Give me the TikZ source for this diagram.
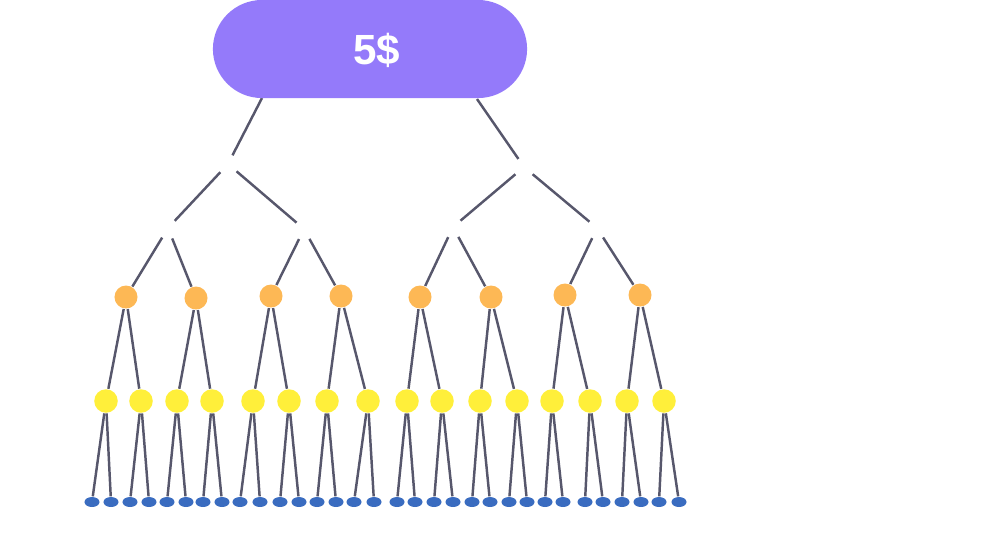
\documentclass[tikz,border=0pt]{standalone}
\usepackage{fontspec}
\setmainfont{Liberation Sans}
\usetikzlibrary{shapes.geometric}
\definecolor{pillc}{RGB}{148,122,250}
\definecolor{orangec}{RGB}{253,184,85}
\definecolor{yellowc}{RGB}{255,239,58}
\definecolor{bluec}{RGB}{58,108,192}
\definecolor{linec}{RGB}{58,58,82}
\tikzset{
  pillbox/.style={fill=pillc, draw=none, rounded corners=0.49cm, minimum width=3.14cm, minimum height=0.98cm, inner sep=0pt},
  pricetext/.style={text=white, font=\fontsize{12}{14}\selectfont\bfseries, inner sep=0pt},
  onode/.style={circle, fill=orangec, minimum size=0.23cm, inner sep=0pt},
  ynode/.style={circle, fill=yellowc, minimum size=0.235cm, inner sep=0pt},
  bnode/.style={ellipse, fill=bluec, minimum width=0.15cm, minimum height=0.10cm, inner sep=0pt},
  tl/.style={draw=linec, line width=0.7pt, opacity=0.85},
  gapstart/.style={shorten <=3.2pt},
  gapend/.style={shorten >=2.8pt}
}
\begin{document}
\begin{tikzpicture}[x=0.01cm, y=-0.01cm]
\useasboundingbox (0,0) rectangle (1000,556);
% branch points
\coordinate (rl) at (262,98);
\coordinate (rr) at (477,99);
\coordinate (L) at (228,164);
\coordinate (R) at (524,167);
\coordinate (LL) at (168,228);
\coordinate (LR) at (304,229);
\coordinate (RL) at (453,227);
\coordinate (RR) at (597,228);
% nodes
\foreach \x/\y [count=\i] in {126/297,196/298,271/296,341/296,420/297,491/297,565/295,640/295}
  \node[onode] (o\i) at (\x,\y) {};
\foreach \x [count=\i] in {106,141,177,212,253,289,327,368,407,442,480,517,552,590,627,664}
  \node[ynode] (y\i) at (\x,401) {};
\foreach \x [count=\i] in {92,111,130,149,167,186,203,222,240,260,280,299,317,336,354,374,397,415,434,453,472,490,509,527,545,563,585,603,622,641,659,679}
  \node[bnode] (b\i) at (\x,502) {};
% upper tree with gaps
\draw[tl, gapend] (rl) -- (L);
\draw[tl, gapend] (rr) -- (R);
\draw[tl, gapstart, gapend] (L) -- (LL);
\draw[tl, gapstart, gapend] (L) -- (LR);
\draw[tl, gapstart, gapend] (R) -- (RL);
\draw[tl, gapstart, gapend] (R) -- (RR);
\draw[tl, gapstart] (LL) -- (o1);
\draw[tl, gapstart] (LL) -- (o2);
\draw[tl, gapstart] (LR) -- (o3);
\draw[tl, gapstart] (LR) -- (o4);
\draw[tl, gapstart] (RL) -- (o5);
\draw[tl, gapstart] (RL) -- (o6);
\draw[tl, gapstart] (RR) -- (o7);
\draw[tl, gapstart] (RR) -- (o8);
% lower tree
\foreach \j in {1,...,16} {
  \pgfmathtruncatemacro\p{(\j+1)/2}
  \draw[tl] (o\p) -- (y\j);
}
\foreach \k in {1,...,32} {
  \pgfmathtruncatemacro\p{(\k+1)/2}
  \draw[tl] (y\p) -- (b\k);
}
% root
\node[pillbox] (root) at (370,49) {};
\node[pricetext] (price) at (377,50) {5\$};
\end{tikzpicture}
\end{document}
